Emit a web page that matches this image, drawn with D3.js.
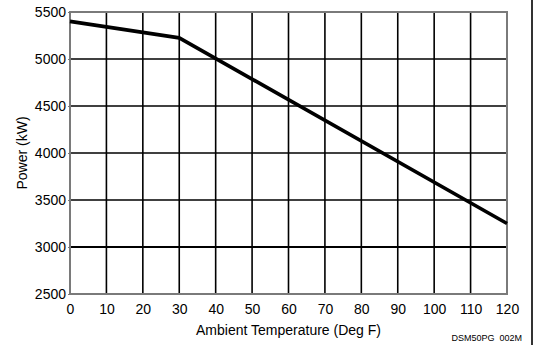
<!DOCTYPE html>
<html>
<head>
<meta charset="utf-8">
<script src="https://cdn.jsdelivr.net/npm/d3@7"></script>
<style>
  body { margin: 0; background: #fff; }
  svg { display: block; font-family: 'Liberation Sans', Arial, sans-serif; }
  .tick text { font-size: 14px; fill: #000; }
</style>
</head>
<body>
<div id="chart"></div>
<script>
// values (line breakpoints)
const temps = [0, 30, 120];
const power = [5400, 5225, 3250];
const xTicks = [0, 10, 20, 30, 40, 50, 60, 70, 80, 90, 100, 110, 120];
const yTicks = [2500, 3000, 3500, 4000, 4500, 5000, 5500];

const W = 535;
const H = 345;
const margin = { top: 12, right: 28, bottom: 51, left: 70 };
const width = W - margin.left - margin.right;
const height = H - margin.top - margin.bottom;

const svg = d3.select('#chart').append('svg')
  .attr('width', W)
  .attr('height', H);

const x = d3.scaleLinear().domain([0, 120]).range([0, width]);
const y = d3.scaleLinear().domain([2500, 5500]).range([height, 0]);

const g = svg.append('g')
  .attr('transform', `translate(${margin.left},${margin.top})`);

// grid
g.append('g')
  .selectAll('line')
  .data(xTicks.slice(1, -1))
  .join('line')
  .attr('x1', (d) => x(d)).attr('x2', (d) => x(d))
  .attr('y1', 0).attr('y2', height)
  .attr('stroke', '#000')
  .attr('stroke-width', 1.6);

g.append('g')
  .selectAll('line')
  .data(yTicks.slice(1, -1))
  .join('line')
  .attr('x1', 0).attr('x2', width)
  .attr('y1', (d) => y(d)).attr('y2', (d) => y(d))
  .attr('stroke', '#000')
  .attr('stroke-width', (d) => (d === 3000 ? 2.2 : 1.6));

// frame
g.append('rect')
  .attr('width', width)
  .attr('height', height)
  .attr('fill', 'none')
  .attr('stroke', '#7a7a7a')
  .attr('stroke-width', 2);

// axes
const xAxis = d3.axisBottom(x).tickValues(xTicks).tickSize(0).tickPadding(10)
  .tickFormat(d3.format('d'));
const yAxis = d3.axisLeft(y).tickValues(yTicks).tickSize(2).tickPadding(2)
  .tickFormat(d3.format('d'));

g.append('g')
  .attr('class', 'axis axis--x')
  .attr('transform', `translate(0,${height})`)
  .call(xAxis)
  .call((s) => s.select('.domain').remove());

g.append('g')
  .attr('class', 'axis axis--y')
  .call(yAxis)
  .call((s) => s.select('.domain').remove())
  .call((s) => s.selectAll('.tick line').attr('stroke', '#777'));

// data line
const line = d3.line()
  .x((d, i) => x(temps[i]))
  .y((d) => y(d));

g.append('path')
  .datum(power)
  .attr('fill', 'none')
  .attr('stroke', '#000')
  .attr('stroke-width', 3.6)
  .attr('stroke-linejoin', 'round')
  .attr('d', line);

// titles
svg.append('text')
  .attr('x', margin.left + width / 2)
  .attr('y', 335)
  .attr('text-anchor', 'middle')
  .attr('font-size', 14)
  .text('Ambient Temperature (Deg F)');

svg.append('text')
  .attr('transform', `translate(27,${margin.top + height / 2}) rotate(-90)`)
  .attr('text-anchor', 'middle')
  .attr('font-size', 14)
  .text('Power (kW)');

svg.append('text')
  .attr('x', 522)
  .attr('y', 341)
  .attr('text-anchor', 'end')
  .attr('font-size', 9)
  .attr('xml:space', 'preserve')
  .text('DSM50PG  002M');

// right edge rule
svg.append('line')
  .attr('x1', 532).attr('x2', 532)
  .attr('y1', 0).attr('y2', H)
  .attr('stroke', '#333')
  .attr('stroke-width', 2);
</script>
</body>
</html>
